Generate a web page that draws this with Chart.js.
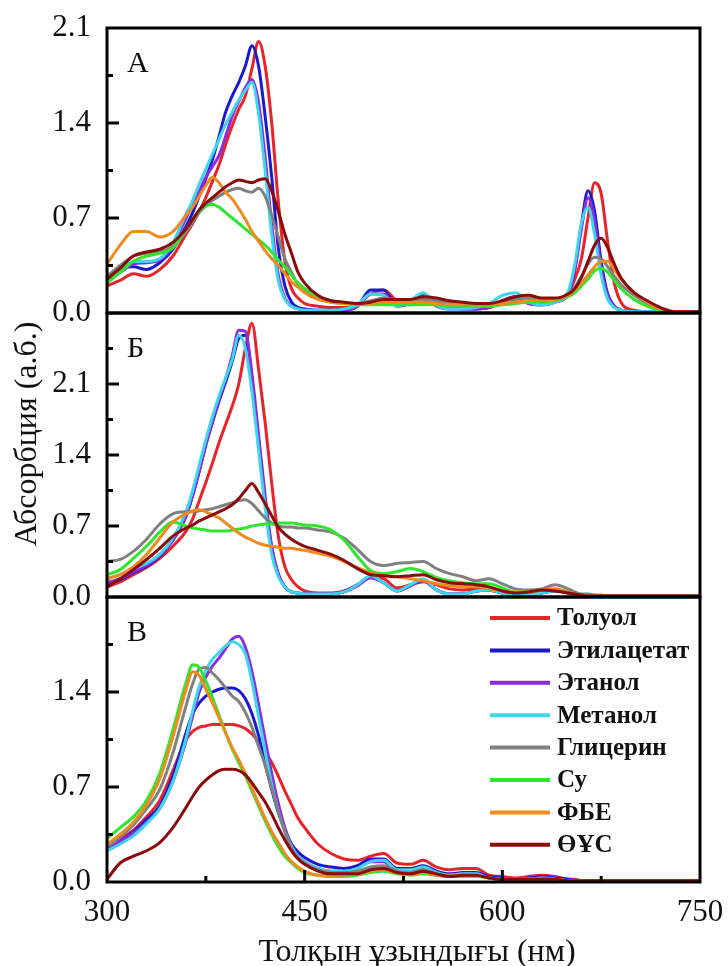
<!DOCTYPE html>
<html>
<head>
<meta charset="utf-8">
<script src="https://cdn.jsdelivr.net/npm/chart.js@4.4.1/dist/chart.umd.min.js"></script>
<style>
  html, body { margin:0; padding:0; background:#fff; overflow:hidden; }
  #wrap { position:relative; width:728px; height:966px; background:#fff; }
  canvas { position:absolute; left:0; }
  .ttl { position:absolute; font-family:"Liberation Serif", "Times New Roman", serif; font-size:32px; color:#111; text-align:center; white-space:nowrap; }
</style>
</head>
<body>
<div id="wrap">
  <canvas id="cA" width="728" height="330" style="top:0px"></canvas>
  <canvas id="cB" width="728" height="317" style="top:297px"></canvas>
  <canvas id="cC" width="728" height="385" style="top:581px"></canvas>
  <div class="ttl" id="ytitle" style="left:-125px; top:414px; width:300px; height:40px; line-height:40px; transform:rotate(-90deg);">Абсорбция (а.б.)</div>
  <div class="ttl" id="xtitle" style="left:117px; top:930px; width:600px; height:40px; line-height:40px;">Толқын ұзындығы (нм)</div>
</div>
<script>
// ---------- DATA ----------
const wavelengths = [300,310,320,330,340,350,360,365,370,375,380,385,390,395,400,405,410,415,420,425,430,435,440,445,450,460,470,480,490,500,510,520,530,540,550,560,570,580,590,600,610,620,630,640,650,655,660,665,670,675,680,685,690,700,710,720,730,740,750];

const seriesNames = ["Толуол","Этилацетат","Этанол","Метанол","Глицерин","Су","ФБЕ","ӨҰС"];
const seriesColors = ["#e8232a","#1a1ad2","#8b2be2","#3cd7ec","#808080","#2ee62e","#ef8a1e","#8b0a0a"];

// Panel А
const A_toluene = [0.20,0.24,0.29,0.27,0.32,0.42,0.58, 0.66,0.75,0.85,0.97,1.09,1.24,1.38,1.50,1.60,1.80,2.00,1.82,1.40,0.82,0.38,0.18,0.11,0.07, 0.05,0.04,0.04,0.06,0.14,0.17,0.09,0.06,0.10,0.08,0.07,0.06,0.06,0.05,0.07,0.11,0.10,0.08,0.09,0.15, 0.25,0.40,0.70,0.96,0.88,0.52,0.22,0.08, 0.02,0.01,0.01,0.01,0.01,0.01];
const A_ethylacetate = [0.26,0.33,0.34,0.32,0.37,0.47,0.64, 0.74,0.86,0.99,1.13,1.30,1.48,1.60,1.70,1.82,1.97,1.82,1.45,1.00,0.48,0.20,0.08,0.04,0.03, 0.02,0.02,0.02,0.05,0.17,0.17,0.05,0.08,0.14,0.06,0.04,0.03,0.03,0.04,0.09,0.12,0.07,0.06,0.08,0.15, 0.32,0.65,0.90,0.75,0.38,0.14,0.05,0.02, 0.01,0.01,0.01,0.01,0.01,0.01];
const A_ethanol = [0.25,0.30,0.36,0.37,0.39,0.50,0.70, 0.80,0.90,1.00,1.08,1.16,1.30,1.45,1.56,1.66,1.72,1.55,1.15,0.65,0.28,0.11,0.05,0.03,0.02, 0.02,0.02,0.02,0.05,0.14,0.14,0.05,0.07,0.13,0.05,0.03,0.03,0.03,0.04,0.09,0.12,0.07,0.06,0.08,0.14, 0.32,0.62,0.85,0.68,0.33,0.13,0.05,0.02, 0.01,0.01,0.01,0.01,0.01,0.01];
const A_methanol = [0.26,0.30,0.38,0.38,0.40,0.52,0.73, 0.83,0.95,1.06,1.17,1.28,1.39,1.48,1.57,1.64,1.70,1.47,1.05,0.58,0.24,0.10,0.05,0.03,0.02, 0.02,0.02,0.03,0.06,0.14,0.13,0.05,0.09,0.15,0.06,0.03,0.03,0.04,0.07,0.13,0.15,0.08,0.06,0.08,0.16, 0.36,0.66,0.78,0.58,0.28,0.10,0.04,0.02, 0.01,0.01,0.01,0.01,0.01,0.01];
const A_glycerol = [0.27,0.35,0.42,0.44,0.45,0.49,0.60, 0.67,0.74,0.79,0.83,0.86,0.89,0.91,0.92,0.90,0.89,0.92,0.86,0.72,0.56,0.40,0.30,0.21,0.17, 0.11,0.08,0.07,0.07,0.09,0.11,0.10,0.09,0.10,0.09,0.08,0.07,0.06,0.06,0.08,0.10,0.11,0.10,0.10,0.14, 0.19,0.27,0.36,0.41,0.40,0.34,0.27,0.21, 0.13,0.07,0.03,0.01,0.01,0.01];
const A_water = [0.22,0.30,0.38,0.42,0.44,0.48,0.62, 0.69,0.75,0.79,0.80,0.78,0.74,0.70,0.66,0.62,0.58,0.54,0.50,0.45,0.39,0.34,0.28,0.22,0.18, 0.12,0.09,0.07,0.06,0.06,0.06,0.06,0.06,0.06,0.06,0.05,0.05,0.05,0.05,0.06,0.07,0.08,0.08,0.09,0.12, 0.15,0.20,0.25,0.31,0.33,0.30,0.24,0.18, 0.10,0.05,0.02,0.01,0.01,0.01];
const A_pbs = [0.36,0.50,0.60,0.60,0.56,0.60,0.72, 0.78,0.86,0.94,1.00,0.96,0.89,0.84,0.77,0.69,0.60,0.53,0.46,0.40,0.35,0.29,0.23,0.19,0.15, 0.10,0.08,0.07,0.06,0.07,0.08,0.08,0.08,0.08,0.07,0.06,0.06,0.06,0.06,0.07,0.08,0.09,0.09,0.10,0.13, 0.17,0.22,0.28,0.34,0.38,0.38,0.32,0.25, 0.15,0.08,0.03,0.01,0.01,0.01];
const A_fbs = [0.25,0.33,0.42,0.45,0.47,0.52,0.62, 0.69,0.76,0.81,0.85,0.89,0.93,0.96,0.98,0.97,0.96,0.98,0.99,0.90,0.75,0.58,0.44,0.30,0.22, 0.13,0.09,0.08,0.07,0.08,0.10,0.10,0.10,0.12,0.11,0.09,0.08,0.07,0.07,0.09,0.12,0.13,0.11,0.11,0.14, 0.18,0.26,0.38,0.50,0.55,0.48,0.36,0.26, 0.15,0.09,0.04,0.01,0.01,0.01];

// Panel Б
const B_toluene = [0.10,0.15,0.22,0.29,0.38,0.50,0.65, 0.77,0.95,1.13,1.32,1.52,1.70,1.88,2.10,2.45,2.70,2.25,1.72,1.12,0.60,0.30,0.17,0.10,0.06, 0.04,0.04,0.06,0.12,0.19,0.18,0.09,0.12,0.15,0.12,0.08,0.07,0.08,0.07,0.04,0.03,0.03,0.05,0.07,0.05, 0.03,0.02,0.01,0.01,0.01,0.01,0.01,0.01, 0.01,0.01,0.01,0.01,0.01,0.01];
const B_ethylacetate = [0.12,0.17,0.24,0.30,0.40,0.56,0.80, 1.00,1.24,1.50,1.72,1.93,2.12,2.32,2.55,2.58,2.15,1.55,0.95,0.48,0.22,0.10,0.05,0.04,0.03, 0.03,0.03,0.05,0.12,0.20,0.14,0.06,0.11,0.16,0.07,0.03,0.03,0.06,0.07,0.04,0.02,0.02,0.04,0.06,0.04, 0.02,0.01,0.01,0.01,0.01,0.01,0.01,0.01, 0.01,0.01,0.01,0.01,0.01,0.01];
const B_ethanol = [0.14,0.18,0.25,0.31,0.41,0.56,0.80, 1.00,1.24,1.50,1.73,1.95,2.15,2.38,2.63,2.62,2.20,1.60,1.00,0.50,0.23,0.10,0.05,0.04,0.03, 0.03,0.03,0.05,0.11,0.19,0.14,0.06,0.11,0.16,0.07,0.03,0.03,0.06,0.07,0.04,0.02,0.02,0.04,0.06,0.04, 0.02,0.01,0.01,0.01,0.01,0.01,0.01,0.01, 0.01,0.01,0.01,0.01,0.01,0.01];
const B_methanol = [0.18,0.22,0.28,0.33,0.42,0.58,0.84, 1.05,1.30,1.55,1.78,1.98,2.16,2.34,2.58,2.45,2.02,1.45,0.88,0.42,0.20,0.10,0.05,0.04,0.03, 0.03,0.03,0.05,0.12,0.21,0.14,0.06,0.12,0.18,0.07,0.03,0.03,0.06,0.07,0.04,0.02,0.02,0.04,0.06,0.04, 0.02,0.01,0.01,0.01,0.01,0.01,0.01,0.01, 0.01,0.01,0.01,0.01,0.01,0.01];
const B_glycerol = [0.35,0.37,0.45,0.57,0.72,0.82,0.84, 0.84,0.85,0.86,0.87,0.89,0.91,0.93,0.95,0.96,0.92,0.85,0.78,0.73,0.70,0.69,0.69,0.68,0.68, 0.66,0.64,0.58,0.47,0.35,0.31,0.33,0.34,0.35,0.28,0.23,0.20,0.16,0.18,0.13,0.08,0.07,0.08,0.12,0.08, 0.05,0.03,0.03,0.02,0.02,0.01,0.01,0.01, 0.01,0.01,0.01,0.01,0.01,0.01];
const B_water = [0.22,0.27,0.38,0.50,0.64,0.74,0.70, 0.68,0.67,0.66,0.65,0.65,0.65,0.66,0.67,0.68,0.70,0.71,0.72,0.72,0.73,0.73,0.73,0.72,0.71, 0.70,0.66,0.56,0.40,0.26,0.23,0.25,0.28,0.25,0.19,0.16,0.14,0.13,0.13,0.09,0.05,0.05,0.07,0.08,0.05, 0.03,0.02,0.01,0.01,0.01,0.01,0.01,0.01, 0.01,0.01,0.01,0.01,0.01,0.01];
const B_pbs = [0.18,0.22,0.30,0.42,0.58,0.74,0.82, 0.85,0.86,0.84,0.81,0.78,0.73,0.68,0.63,0.59,0.56,0.53,0.51,0.50,0.49,0.48,0.48,0.47,0.46, 0.43,0.40,0.35,0.29,0.24,0.21,0.20,0.18,0.16,0.13,0.11,0.10,0.10,0.08,0.06,0.05,0.05,0.07,0.08,0.05, 0.03,0.02,0.01,0.01,0.01,0.01,0.01,0.01, 0.01,0.01,0.01,0.01,0.01,0.01];
const B_fbs = [0.10,0.18,0.27,0.37,0.48,0.60,0.68, 0.71,0.75,0.78,0.81,0.84,0.87,0.91,0.97,1.05,1.12,1.03,0.92,0.80,0.69,0.62,0.57,0.53,0.50, 0.46,0.42,0.36,0.28,0.22,0.21,0.20,0.21,0.22,0.17,0.14,0.13,0.12,0.10,0.06,0.04,0.05,0.07,0.06,0.04, 0.03,0.02,0.01,0.01,0.01,0.01,0.01,0.01, 0.01,0.01,0.01,0.01,0.01,0.01];

// Panel В
const C_toluene = [0.26,0.32,0.38,0.48,0.60,0.82,1.05, 1.11,1.14,1.15,1.16,1.16,1.16,1.16,1.15,1.13,1.09,1.03,0.96,0.88,0.78,0.67,0.57,0.47,0.40, 0.28,0.21,0.17,0.16,0.19,0.21,0.14,0.13,0.16,0.11,0.09,0.10,0.10,0.05,0.04,0.03,0.04,0.05,0.04,0.02, 0.02,0.01,0.01,0.01,0.01,0.01,0.01,0.01, 0.01,0.01,0.01,0.01,0.01,0.01];
const C_ethylacetate = [0.25,0.30,0.37,0.46,0.56,0.78,1.10, 1.24,1.32,1.37,1.40,1.42,1.43,1.43,1.41,1.35,1.24,1.08,0.87,0.68,0.51,0.38,0.28,0.22,0.18, 0.13,0.11,0.10,0.12,0.17,0.17,0.10,0.10,0.12,0.08,0.06,0.07,0.07,0.04,0.03,0.02,0.03,0.04,0.03,0.02, 0.01,0.01,0.01,0.01,0.01,0.01,0.01,0.01, 0.01,0.01,0.01,0.01,0.01,0.01];
const C_ethanol = [0.25,0.30,0.36,0.44,0.54,0.74,1.04, 1.22,1.40,1.51,1.59,1.65,1.72,1.79,1.81,1.73,1.55,1.31,1.05,0.80,0.58,0.40,0.27,0.19,0.15, 0.10,0.08,0.08,0.10,0.15,0.15,0.08,0.08,0.10,0.06,0.05,0.06,0.06,0.03,0.02,0.02,0.02,0.03,0.02,0.01, 0.01,0.01,0.01,0.01,0.01,0.01,0.01,0.01, 0.01,0.01,0.01,0.01,0.01,0.01];
const C_methanol = [0.23,0.28,0.34,0.43,0.54,0.74,1.06, 1.26,1.44,1.56,1.64,1.69,1.74,1.77,1.75,1.68,1.48,1.22,0.96,0.72,0.52,0.37,0.26,0.19,0.15, 0.10,0.08,0.08,0.10,0.15,0.16,0.09,0.09,0.11,0.07,0.05,0.06,0.06,0.03,0.02,0.02,0.02,0.03,0.02,0.01, 0.01,0.01,0.01,0.01,0.01,0.01,0.01,0.01, 0.01,0.01,0.01,0.01,0.01,0.01];
const C_glycerol = [0.26,0.33,0.42,0.54,0.68,0.95,1.30, 1.46,1.57,1.58,1.54,1.49,1.43,1.37,1.33,1.25,1.14,1.00,0.86,0.69,0.52,0.37,0.25,0.18,0.14, 0.09,0.07,0.07,0.08,0.11,0.12,0.08,0.07,0.09,0.06,0.05,0.05,0.05,0.03,0.02,0.02,0.02,0.03,0.02,0.01, 0.01,0.01,0.01,0.01,0.01,0.01,0.01,0.01, 0.01,0.01,0.01,0.01,0.01,0.01];
const C_water = [0.32,0.40,0.48,0.60,0.80,1.12,1.47, 1.60,1.58,1.48,1.36,1.23,1.10,0.98,0.88,0.78,0.67,0.56,0.45,0.35,0.26,0.19,0.14,0.10,0.07, 0.05,0.04,0.04,0.05,0.07,0.08,0.06,0.05,0.06,0.05,0.04,0.04,0.04,0.03,0.02,0.02,0.02,0.02,0.02,0.01, 0.01,0.01,0.01,0.01,0.01,0.01,0.01,0.01, 0.01,0.01,0.01,0.01,0.01,0.01];
const C_pbs = [0.28,0.35,0.44,0.57,0.76,1.07,1.42, 1.55,1.52,1.42,1.32,1.21,1.10,0.99,0.90,0.80,0.69,0.58,0.47,0.37,0.29,0.21,0.15,0.11,0.08, 0.05,0.05,0.05,0.06,0.08,0.09,0.07,0.06,0.07,0.05,0.04,0.05,0.05,0.03,0.02,0.02,0.02,0.02,0.02,0.01, 0.01,0.01,0.01,0.01,0.01,0.01,0.01,0.01, 0.01,0.01,0.01,0.01,0.01,0.01];
const C_fbs = [0.02,0.14,0.19,0.23,0.29,0.40,0.55, 0.63,0.70,0.75,0.79,0.82,0.83,0.83,0.82,0.79,0.73,0.66,0.59,0.50,0.40,0.31,0.23,0.17,0.13, 0.08,0.06,0.06,0.06,0.09,0.10,0.07,0.06,0.08,0.06,0.04,0.05,0.05,0.03,0.02,0.02,0.02,0.02,0.02,0.01, 0.01,0.01,0.01,0.01,0.01,0.01,0.01,0.01, 0.01,0.01,0.01,0.01,0.01,0.01];

const panelA = [A_toluene, A_ethylacetate, A_ethanol, A_methanol, A_glycerol, A_water, A_pbs, A_fbs];
const panelB = [B_toluene, B_ethylacetate, B_ethanol, B_methanol, B_glycerol, B_water, B_pbs, B_fbs];
const panelC = [C_toluene, C_ethylacetate, C_ethanol, C_methanol, C_glycerol, C_water, C_pbs, C_fbs];

const xMin = 300, xMax = 750, xStep = 150;
const yStep = 0.7;
const yMaxA = 2.1, yMaxB = 2.8, yMaxC = 2.1;
const panelLetters = ["А","Б","В"];

// ---------- DRAWING ----------
const FONT = '"Liberation Serif", "Times New Roman", serif';

const panelPlugin = {
  id: 'panelDeco',
  afterDatasetsDraw(chart, args, opts) {
    const ctx = chart.ctx, a = chart.chartArea, ys = chart.scales.y, xs = chart.scales.x;
    ctx.save();
    ctx.strokeStyle = '#000';
    ctx.lineWidth = 3;
    ctx.lineCap = 'butt';
    const half = yStep / 2;
    for (let k = 1; k * half < ys.max - 1e-6; k++) {
      const py = ys.getPixelForValue(k * half);
      const len = (k % 2 === 0) ? 12 : 6;
      ctx.beginPath(); ctx.moveTo(a.left, py); ctx.lineTo(a.left + len, py); ctx.stroke();
    }
    if (opts.xTicks) {
      for (let v = xMin + xStep / 2; v < xMax - 1e-6; v += xStep / 2) {
        const px = xs.getPixelForValue(v);
        const len = ((v - xMin) % xStep === 0) ? 12 : 6;
        ctx.beginPath(); ctx.moveTo(px, a.bottom); ctx.lineTo(px, a.bottom - len); ctx.stroke();
      }
    }
    ctx.strokeRect(a.left, a.top, a.right - a.left, a.bottom - a.top);
    ctx.fillStyle = '#111';
    ctx.font = '30px ' + FONT;
    ctx.textBaseline = 'alphabetic';
    ctx.textAlign = 'left';
    ctx.fillText(opts.letter, a.left + 20, a.top + 44);
    if (opts.legend) {
      ctx.font = 'bold 25px ' + FONT;
      ctx.textBaseline = 'middle';
      chart.data.datasets.forEach((ds, i) => {
        const yy = a.top + 21 + i * 32.4;
        ctx.strokeStyle = ds.borderColor;
        ctx.lineWidth = 4;
        ctx.beginPath(); ctx.moveTo(490, yy); ctx.lineTo(550, yy); ctx.stroke();
        ctx.fillStyle = '#111';
        ctx.fillText(ds.label, 557, yy + 1);
      });
    }
    ctx.restore();
  }
};

function makeChart(id, arrays, yMax, letter, hideTop, isBottom, padTop, padBottom) {
  const datasets = arrays.map((arr, i) => ({
    label: seriesNames[i],
    data: wavelengths.map((w, j) => ({ x: w, y: arr[j] })),
    borderColor: seriesColors[i],
    borderWidth: 3,
    pointRadius: 0,
    fill: false,
    cubicInterpolationMode: 'monotone',
    order: arrays.length - i
  }));
  return new Chart(document.getElementById(id), {
    type: 'line',
    data: { datasets },
    plugins: [panelPlugin],
    options: {
      responsive: false,
      animation: false,
      devicePixelRatio: 1,
      layout: { autoPadding: false, padding: { left: 0, right: 28, top: padTop, bottom: padBottom } },
      plugins: {
        legend: { display: false },
        tooltip: { enabled: false },
        panelDeco: { letter, legend: isBottom, xTicks: isBottom }
      },
      scales: {
        x: {
          type: 'linear', min: xMin, max: xMax,
          display: isBottom,
          grid: { display: false, drawTicks: false },
          border: { display: false },
          ticks: { stepSize: xStep, padding: 12, color: '#111', font: { family: FONT, size: 31 }, maxRotation: 0,
                   callback: v => String(v) },
          afterFit: s => { s.height = isBottom ? 84 : 0; s.paddingLeft = 0; s.paddingRight = 0; s.paddingTop = 0; s.paddingBottom = 0; }
        },
        y: {
          type: 'linear', min: 0, max: yMax,
          grid: { display: false, drawTicks: false },
          border: { display: false },
          ticks: { stepSize: yStep, padding: 16, color: '#111', font: { family: FONT, size: 31 },
                   callback: v => (hideTop && v > yMax - 0.35) ? '' : Number(v).toFixed(1) },
          afterFit: s => { s.width = 107; s.paddingTop = 0; s.paddingBottom = 0; s.paddingLeft = 0; s.paddingRight = 0; }
        }
      }
    }
  });
}

makeChart('cA', panelA, yMaxA, panelLetters[0], false, false, 28, 17);
makeChart('cB', panelB, yMaxB, panelLetters[1], true, false, 16, 17);
makeChart('cC', panelC, yMaxC, panelLetters[2], true, true, 16, 0);
</script>
</body>
</html>
